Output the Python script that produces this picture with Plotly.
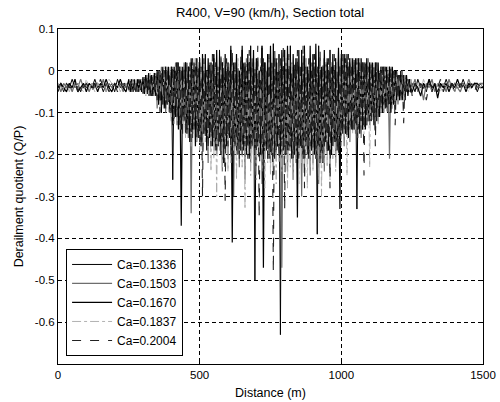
import numpy as np
import plotly.graph_objects as go

# Distance sampling (m): coarse in quiet ends, fine in the curve section
DIST = np.concatenate([np.arange(0, 250, 10), np.arange(250, 1250, 5), np.arange(1250, 1501, 10)])

LABELS = ["Ca=0.1336", "Ca=0.1503", "Ca=0.1670", "Ca=0.1837", "Ca=0.2004"]

# ---- quiet start (0..240 m, 10 m) ----
S1_A = [-.04,-.03,-.05,-.03,-.04,-.02,-.04,-.03,-.05,-.03,-.04,-.03,-.04,-.02,-.04,-.03,-.05,-.03,-.04,-.03,-.05,-.02,-.04,-.03,-.04]
S2_A = [-.03,-.05,-.03,-.04,-.03,-.05,-.03,-.04,-.02,-.04,-.03,-.05,-.03,-.04,-.03,-.04,-.02,-.05,-.03,-.04,-.03,-.04,-.03,-.05,-.03]
S3_A = [-.04,-.03,-.04,-.05,-.03,-.04,-.02,-.05,-.04,-.03,-.05,-.03,-.04,-.03,-.05,-.03,-.04,-.02,-.04,-.05,-.03,-.04,-.02,-.04,-.05]
S4_A = [-.03,-.04,-.04,-.03,-.05,-.03,-.04,-.03,-.04,-.05,-.02,-.04,-.03,-.05,-.03,-.04,-.03,-.05,-.02,-.03,-.04,-.03,-.05,-.03,-.03]
S5_A = [-.05,-.03,-.04,-.03,-.04,-.04,-.03,-.05,-.03,-.04,-.03,-.04,-.05,-.03,-.04,-.02,-.04,-.03,-.05,-.04,-.03,-.05,-.03,-.04,-.02]

# ---- curve section (250..1245 m, 5 m) ----
S1_B = [-.025,-.045,-.02,-.05,-.03,-.04,-.02,-.05,-.025,-.045,
        -.015,-.05,-.01,-.055,-.02,-.05,-.01,-.06,-.005,-.05,
        -.01,-.08,.00,-.10,.00,-.06,.01,-.08,-.01,-.09,
        .01,-.26,.00,-.10,.02,-.12,.01,-.14,.00,-.11,
        .02,-.14,.01,-.12,.02,-.16,.00,-.13,.03,-.15,
        .03,-.18,.01,-.14,.04,-.16,.00,-.12,.02,-.17,
        .04,-.15,.01,-.18,.05,-.13,.02,-.22,.00,-.16,
        .02,-.14,.05,-.19,.01,-.17,.03,-.15,.00,-.19,
        .05,-.16,.01,-.20,.02,-.14,.06,-.17,.01,-.50,
        .03,-.18,.00,-.15,.06,-.21,.02,-.19,.04,-.16,
        .01,-.20,.065,-.17,.02,-.18,.04,-.63,.01,-.17,
        .05,-.16,.02,-.19,.06,-.15,.00,-.20,.03,-.18,
        .01,-.17,.05,-.21,.06,-.18,.01,-.16,.03,-.19,
        .04,-.18,.01,-.39,.06,-.15,.00,-.22,.03,-.17,
        .02,-.19,.05,-.17,.01,-.16,.03,-.18,.05,-.20,
        .03,-.13,.04,-.15,.02,-.14,.03,-.12,.02,-.14,
        .02,-.33,.03,-.12,.01,-.14,.02,-.11,.03,-.11,
        .02,-.12,.01,-.10,.02,-.12,.00,-.09,.01,-.09,
        .01,-.08,.00,-.10,.01,-.09,-.01,-.08,.00,-.07,
        -.01,-.07,.00,-.06,-.01,-.07,-.02,-.05,-.02,-.04]
S2_B = [-.045,-.025,-.05,-.02,-.045,-.03,-.05,-.02,-.045,-.025,
        -.055,-.015,-.05,-.01,-.06,-.02,-.05,-.01,-.055,-.005,
        -.09,-.00,-.07,.01,-.08,-.00,-.10,.01,-.07,.00,
        -.12,.01,-.10,.02,-.13,.00,-.11,.01,-.15,.02,
        -.13,.01,-.16,.02,-.34,.01,-.14,.03,-.17,.02,
        -.16,.01,-.19,.02,-.15,.00,-.22,.02,-.18,.01,
        -.17,.02,-.20,.01,-.16,.03,-.24,.00,-.19,.02,
        -.21,.01,-.18,.03,-.30,.02,-.20,.00,-.23,.02,
        -.19,.02,-.26,.03,-.18,.01,-.22,.02,-.20,.00,
        -.24,.03,-.19,.01,-.27,.02,-.21,.00,-.18,.03,
        -.22,.02,-.25,.03,-.20,.01,-.19,.02,-.47,.00,
        -.21,.03,-.24,.01,-.19,.02,-.26,.00,-.22,.03,
        -.20,.01,-.30,.02,-.23,.03,-.19,.01,-.25,.02,
        -.22,.02,-.19,.00,-.27,.03,-.21,.01,-.24,.02,
        -.20,.01,-.23,.02,-.18,.00,-.22,.02,-.19,.01,
        -.16,.03,-.18,.04,-.15,.02,-.17,.03,-.14,.02,
        -.15,.02,-.13,.03,-.16,.01,-.14,.02,-.12,.03,
        -.13,.02,-.11,.01,-.14,.02,-.12,.00,-.10,.01,
        -.10,.01,-.09,.00,-.21,.01,-.08,-.00,-.09,.00,
        -.08,-.01,-.07,.00,-.06,-.01,-.05,-.02,-.05,-.02]
S3_B = [-.02,-.05,-.03,-.045,-.02,-.05,-.025,-.045,-.02,-.05,
        -.02,-.055,-.01,-.05,-.005,-.06,-.015,-.055,-.01,-.06,
        .00,-.08,-.01,-.07,.01,-.09,.00,-.08,.01,-.10,
        .00,-.13,.01,-.11,.02,-.14,.00,-.37,.01,-.12,
        .02,-.15,.01,-.17,.03,-.14,.02,-.18,.01,-.16,
        .02,-.17,.04,-.15,.01,-.19,.03,-.16,.00,-.18,
        .03,-.19,.05,-.16,.01,-.20,.02,-.17,.04,-.18,
        .01,-.16,.06,-.41,.02,-.18,.04,-.20,.00,-.17,
        .06,-.19,.02,-.17,.04,-.21,.01,-.18,.05,-.20,
        .02,-.17,.00,-.20,.055,-.47,.02,-.18,.04,-.21,
        .06,-.19,.01,-.21,.03,-.18,.00,-.20,.05,-.19,
        .02,-.20,.06,-.18,.01,-.21,.04,-.17,.02,-.35,
        .05,-.18,.01,-.20,.03,-.17,.00,-.21,.06,-.18,
        .02,-.20,.065,-.18,.03,-.22,.01,-.19,.05,-.17,
        .03,-.18,.00,-.20,.04,-.17,.02,-.19,.055,-.33,
        .04,-.15,.03,-.13,.04,-.16,.02,-.14,.03,-.12,
        .03,-.13,.02,-.15,.03,-.12,.01,-.14,.02,-.12,
        .01,-.11,.02,-.13,.01,-.10,.02,-.11,.00,-.10,
        .00,-.09,.01,-.08,.00,-.10,.01,-.08,-.00,-.07,
        -.01,-.06,-.01,-.07,-.02,-.05,-.01,-.06,-.02,-.05]
S4_B = [-.05,-.02,-.045,-.025,-.05,-.02,-.05,-.03,-.045,-.02,
        -.05,-.02,-.06,-.01,-.055,-.005,-.05,-.015,-.06,-.01,
        -.08,.00,-.09,-.00,-.07,.01,-.08,.00,-.10,.01,
        -.11,.00,-.13,.01,-.12,.02,-.14,.01,-.13,.00,
        -.16,.02,-.14,.01,-.18,.02,-.15,.03,-.17,.02,
        -.19,.01,-.22,.02,-.17,.00,-.20,.01,-.24,.02,
        -.21,.02,-.30,.00,-.19,.01,-.23,.03,-.20,.01,
        -.24,.02,-.22,.01,-.19,.00,-.26,.03,-.21,.02,
        -.23,.01,-.33,.02,-.20,.03,-.25,.00,-.22,.02,
        -.26,.02,-.21,.03,-.24,.01,-.28,.00,-.22,.02,
        -.25,.01,-.23,.02,-.27,.03,-.22,.01,-.24,.00,
        -.22,.03,-.28,.01,-.23,.02,-.26,.00,-.21,.02,
        -.27,.01,-.22,.00,-.25,.03,-.28,.02,-.23,.01,
        -.24,.02,-.21,.01,-.26,.03,-.30,.00,-.22,.02,
        -.23,.01,-.26,.02,-.21,.00,-.24,.02,-.20,.01,
        -.18,.03,-.16,.04,-.25,.02,-.17,.03,-.15,.02,
        -.14,.02,-.16,.03,-.13,.02,-.15,.01,-.13,.02,
        -.23,.01,-.12,.02,-.11,.01,-.13,.00,-.10,.01,
        -.09,.00,-.10,.01,-.08,.00,-.09,-.01,-.08,-.00,
        -.07,-.01,-.06,-.01,-.07,-.02,-.05,-.02,-.05,-.02]
S5_B = [-.045,-.02,-.05,-.03,-.045,-.025,-.05,-.02,-.05,-.03,
        -.055,-.015,-.05,-.01,-.055,-.005,-.06,-.015,-.05,-.01,
        -.07,-.00,-.10,.00,-.08,-.00,-.09,.01,-.08,.00,
        -.10,.01,-.12,.00,-.11,.02,-.13,.01,-.12,.01,
        -.15,.02,-.13,.01,-.17,.03,-.14,.02,-.16,.01,
        -.17,.01,-.30,.03,-.16,.00,-.19,.02,-.18,.04,
        -.16,.02,-.19,.00,-.18,.04,-.17,.01,-.31,.03,
        -.18,.00,-.20,.05,-.17,.02,-.19,.01,-.21,.04,
        -.20,.02,-.18,.00,-.21,.05,-.19,.03,-.17,.01,
        -.19,.06,-.35,.01,-.20,.03,-.18,.00,-.21,.04,
        -.20,.02,-.48,.05,-.19,.00,-.21,.03,-.18,.06,
        -.33,.01,-.20,.04,-.18,.00,-.21,.02,-.19,.05,
        -.21,.02,-.19,.06,-.28,.01,-.20,.03,-.18,.00,
        -.19,.04,-.21,.01,-.18,.05,-.20,.02,-.19,.00,
        -.20,.03,-.28,.01,-.19,.04,-.17,.00,-.20,.02,
        -.15,.04,-.14,.03,-.16,.04,-.13,.02,-.15,.03,
        -.13,.03,-.14,.02,-.12,.03,-.25,.02,-.13,.01,
        -.12,.02,-.10,.01,-.18,.02,-.11,.00,-.09,.01,
        -.08,.01,-.09,.00,-.08,.01,-.07,-.00,-.13,.00,
        -.07,-.01,-.06,-.01,-.125,-.02,-.05,-.02,-.04,-.03]

# ---- quiet end (1250..1500 m, 10 m) ----
S1_C = [-.03,-.05,-.02,-.04,-.03,-.05,-.02,-.04,-.03,-.05,-.03,-.04,-.02,-.04,-.03,-.05,-.03,-.04,-.02,-.04,-.03,-.04,-.03,-.05,-.03,-.04]
S2_C = [-.04,-.02,-.05,-.03,-.07,-.03,-.04,-.02,-.05,-.03,-.04,-.03,-.05,-.02,-.04,-.03,-.04,-.05,-.03,-.04,-.02,-.04,-.03,-.04,-.03,-.03]
S3_C = [-.05,-.03,-.04,-.06,-.03,-.04,-.02,-.05,-.03,-.065,-.03,-.04,-.03,-.05,-.03,-.04,-.02,-.04,-.03,-.05,-.03,-.04,-.03,-.03,-.04,-.04]
S4_C = [-.03,-.04,-.03,-.05,-.02,-.04,-.03,-.05,-.04,-.03,-.05,-.03,-.04,-.03,-.04,-.05,-.03,-.04,-.03,-.04,-.05,-.03,-.04,-.03,-.04,-.03]
S5_C = [-.06,-.03,-.05,-.03,-.04,-.07,-.03,-.04,-.03,-.04,-.02,-.05,-.03,-.04,-.03,-.04,-.05,-.03,-.04,-.03,-.04,-.03,-.05,-.03,-.04,-.04]

SERIES = [S1_A + S1_B + S1_C, S2_A + S2_B + S2_C, S3_A + S3_B + S3_C,
          S4_A + S4_B + S4_C, S5_A + S5_B + S5_C]

Y_TICKS = [0.1, 0, -0.1, -0.2, -0.3, -0.4, -0.5, -0.6]
Y_TICKTEXT = ["0.1", "0", "-0.1", "-0.2", "-0.3", "-0.4", "-0.5", "-0.6"]
X_TICKS = [0, 500, 1000, 1500]

STYLES = [dict(color="#000000", width=1.0, dash="solid"),
          dict(color="#6e6e6e", width=1.2, dash="solid"),
          dict(color="#000000", width=1.2, dash="solid"),
          dict(color="#a8a8a8", width=0.9, dash="dashdot"),
          dict(color="#222222", width=1.1, dash="dash")]

FONT = "Arial, 'Liberation Sans', sans-serif"

fig = go.Figure()
for lab, ys, st in zip(LABELS, SERIES, STYLES):
    fig.add_trace(go.Scatter(x=DIST, y=ys, mode="lines", name=lab, line=st))

axis_common = dict(showline=True, linecolor="black", linewidth=1, mirror="ticks",
                   ticks="inside", ticklen=4, tickcolor="black", automargin=False,
                   showgrid=True, gridcolor="black", gridwidth=1, griddash="4px,3px",
                   zeroline=False, tickfont=dict(family=FONT, size=11.5, color="black"))

fig.update_layout(
    width=500, height=402,
    margin=dict(l=58, r=17, t=29, b=38),
    paper_bgcolor="white", plot_bgcolor="white",
    title=dict(text="R400, V=90 (km/h), Section total", x=0.54, xanchor="center",
               y=0.968, yanchor="middle", font=dict(family=FONT, size=13, color="black")),
    xaxis=dict(range=[0, 1500], tickvals=X_TICKS,
               title=dict(text="Distance (m)", standoff=8, font=dict(family=FONT, size=12.5, color="black")),
               **axis_common),
    yaxis=dict(range=[-0.7, 0.1], tickvals=Y_TICKS, ticktext=Y_TICKTEXT,
               title=dict(text="Derailment quotient (Q/P)", standoff=8, font=dict(family=FONT, size=12.5, color="black")),
               **axis_common),
    legend=dict(x=0.019, y=0.024, xanchor="left", yanchor="bottom",
                bgcolor="white", bordercolor="black", borderwidth=1, itemwidth=40,
                font=dict(family=FONT, size=12, color="black"), tracegroupgap=0),
    showlegend=True,
)

fig.write_html("out.html", config={"displayModeBar": False},
               post_script="document.body.style.margin='0px';")
